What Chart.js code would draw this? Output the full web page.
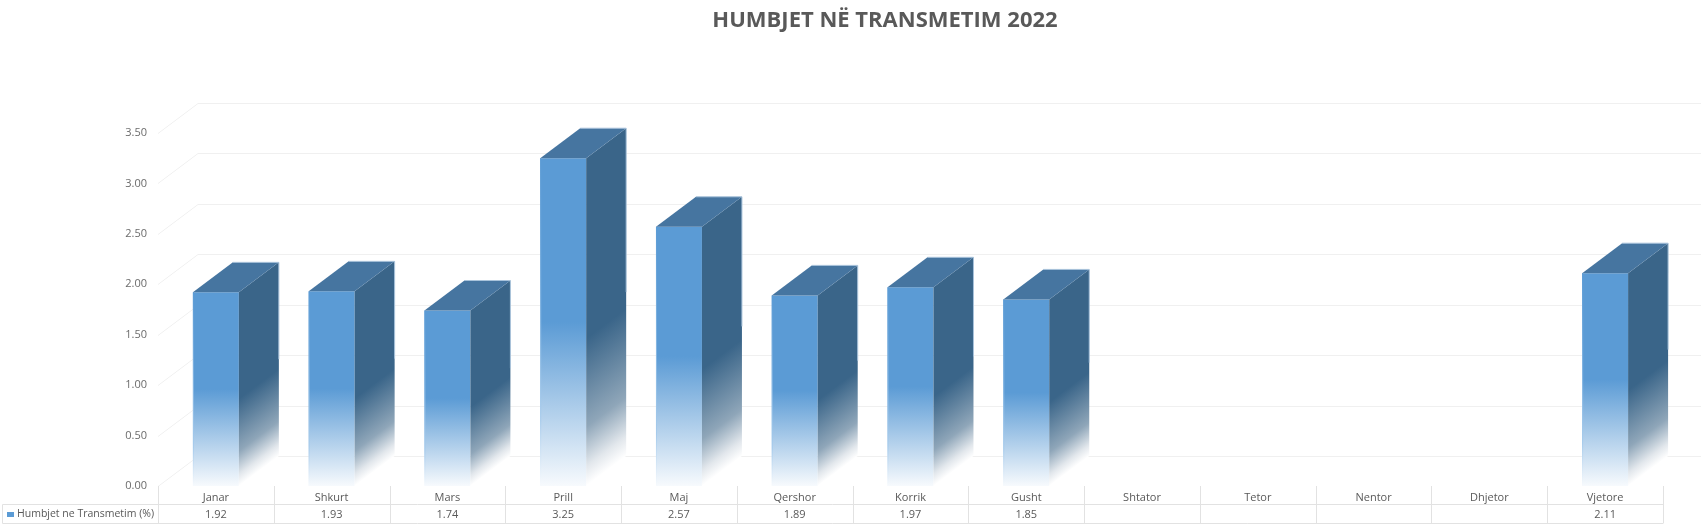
<!DOCTYPE html>
<html>
<head>
<meta charset="utf-8">
<title>Humbjet ne Transmetim</title>
<script src="https://cdn.jsdelivr.net/npm/chart.js@4"></script>
<style>
    html, body { margin: 0; padding: 0; background: #fff; }
    canvas { display: block; }
</style>
</head>
<body>
<canvas id="myChart" width="1701" height="526"></canvas>
<script>
var chartTitle = 'HUMBJET NË TRANSMETIM 2022';
var seriesName = 'Humbjet ne Transmetim (%)';
var labels = ['Janar', 'Shkurt', 'Mars', 'Prill', 'Maj', 'Qershor', 'Korrik', 'Gusht', 'Shtator', 'Tetor', 'Nentor', 'Dhjetor', 'Vjetore'];
var values = [1.92, 1.93, 1.74, 3.25, 2.57, 1.89, 1.97, 1.85, null, null, null, null, 2.11];

var depthX = 40;  // how far the 3D back wall is shifted right
var depthY = 30;  // and up
var fontName = '"Open Sans", sans-serif';

// vertical gradient for one bar, solid in the top half and fading out below
function frontGradient(context, solid, end) {
    var chart = context.chart;
    var value = values[context.dataIndex];
    if (value === null || value === undefined || !chart.scales.y) {
        return solid;
    }
    var top = chart.scales.y.getPixelForValue(value);
    var bottom = chart.scales.y.getPixelForValue(0);
    // the scale has no size yet on the first pass
    if (!isFinite(top) || !isFinite(bottom)) {
        return solid;
    }
    var grad = chart.ctx.createLinearGradient(0, top, 0, bottom);
    grad.addColorStop(0, solid);
    grad.addColorStop(0.5, solid);
    grad.addColorStop(1, end);
    return grad;
}

// back wall and the diagonal lines, goes behind the bars
var wallPlugin = {
    id: 'wall',
    beforeDatasetsDraw: function(chart) {
        var ctx = chart.ctx;
        var y = chart.scales.y;
        ctx.save();
        ctx.strokeStyle = '#f0f0f0';
        ctx.lineWidth = 1;
        y.ticks.forEach(function(tick) {
            var py = Math.round(y.getPixelForValue(tick.value)) + 0.5;
            ctx.beginPath();
            ctx.moveTo(chart.chartArea.left, py);
            ctx.lineTo(chart.chartArea.left + depthX, py - depthY);
            ctx.lineTo(chart.chartArea.right + depthX, py - depthY);
            ctx.stroke();
        });
        ctx.restore();
    }
};

// side and top faces of every bar, taken from the bar elements
var facesPlugin = {
    id: 'faces',
    afterDatasetsDraw: function(chart) {
        var ctx = chart.ctx;
        var meta = chart.getDatasetMeta(0);
        meta.data.forEach(function(bar, i) {
            if (values[i] === null) {
                return;
            }
            var right = bar.x + bar.width / 2;
            var left = bar.x - bar.width / 2;
            var h = bar.base - bar.y;

            // thin edge on the left of the front face
            var edge = ctx.createLinearGradient(0, bar.y, 0, bar.base);
            edge.addColorStop(0, '#5b9bd5');
            edge.addColorStop(0.8, '#a6cbec');
            edge.addColorStop(1, '#f7fafd');
            ctx.save();
            ctx.strokeStyle = edge;
            ctx.lineWidth = 1;
            ctx.beginPath();
            ctx.moveTo(left + 0.5, bar.y);
            ctx.lineTo(left + 0.5, bar.base);
            ctx.stroke();
            ctx.restore();

            // side face, the gradient is sheared along with the face
            ctx.save();
            ctx.transform(1, -depthY / depthX, 0, 1, right, bar.y);
            var grad = ctx.createLinearGradient(0, 0, 0, h);
            grad.addColorStop(0, '#3a6589');
            grad.addColorStop(0.55, '#3a6589');
            grad.addColorStop(0.82, '#8fa6b9');
            grad.addColorStop(0.94, '#e2e7ec');
            grad.addColorStop(1, '#ffffff');
            ctx.fillStyle = grad;
            ctx.fillRect(0, 0, depthX, h);
            ctx.restore();

            // top face
            ctx.save();
            ctx.fillStyle = '#4675a0';
            ctx.strokeStyle = '#a9c3db';
            ctx.lineWidth = 1;
            ctx.beginPath();
            ctx.moveTo(left, bar.y);
            ctx.lineTo(left + depthX, bar.y - depthY);
            ctx.lineTo(right + depthX, bar.y - depthY);
            ctx.lineTo(right, bar.y);
            ctx.closePath();
            ctx.fill();
            ctx.beginPath();
            ctx.moveTo(left + depthX, bar.y - depthY);
            ctx.lineTo(right + depthX, bar.y - depthY);
            ctx.lineTo(right + depthX, bar.y - depthY + h * 0.5);
            ctx.stroke();
            ctx.restore();
        });
    }
};

// data table under the axis
var tablePlugin = {
    id: 'dataTable',
    afterDraw: function(chart) {
        var ctx = chart.ctx;
        var x = chart.scales.x;
        var top = chart.chartArea.bottom;
        var rowLine = top + 18.5;
        var bottom = top + 37.5;
        var cell = x.width / labels.length;
        var i;

        ctx.save();
        ctx.strokeStyle = '#e2e2e2';
        ctx.lineWidth = 1;
        ctx.beginPath();
        for (i = 0; i <= labels.length; i++) {
            var lx = Math.round(x.left + i * cell) + 0.5;
            ctx.moveTo(lx, top);
            ctx.lineTo(lx, bottom);
        }
        ctx.moveTo(2.5, rowLine);
        ctx.lineTo(x.right, rowLine);
        ctx.moveTo(2.5, bottom);
        ctx.lineTo(x.right, bottom);
        ctx.moveTo(2.5, rowLine);
        ctx.lineTo(2.5, bottom);
        ctx.stroke();

        // legend key and series name
        ctx.fillStyle = '#5b9bd5';
        ctx.fillRect(7, top + 26, 7, 5);
        ctx.font = '10.5px ' + fontName;
        ctx.fillStyle = '#595959';
        ctx.textBaseline = 'middle';
        ctx.textAlign = 'left';
        ctx.fillText(seriesName, 17, top + 28);

        // values
        ctx.font = '11px ' + fontName;
        ctx.textAlign = 'center';
        values.forEach(function(v, n) {
            if (v !== null) {
                ctx.fillText(v.toFixed(2), x.getPixelForValue(n), top + 29);
            }
        });
        ctx.restore();
    }
};

var ctx = document.getElementById('myChart').getContext('2d');
var myChart = new Chart(ctx, {
    type: 'bar',
    data: {
        labels: labels,
        datasets: [{
            label: seriesName,
            data: values,
            backgroundColor: function(context) {
                return frontGradient(context, '#5b9bd5', '#f7fafd');
            },
            borderWidth: 0,
            categoryPercentage: 1,
            barPercentage: 0.397
        }]
    },
    options: {
        responsive: false,
        animation: false,
        layout: {
            padding: { left: 107, right: 38, top: 0, bottom: 0 }
        },
        plugins: {
            legend: { display: false },
            tooltip: { enabled: false },
            title: {
                display: true,
                text: chartTitle,
                color: '#595959',
                font: { family: fontName, size: 22, weight: 'bold', lineHeight: 1.2 },
                padding: { top: 8, bottom: 98.6 }
            }
        },
        scales: {
            x: {
                grid: { display: false, drawTicks: false },
                border: { display: false },
                ticks: {
                    color: '#595959',
                    font: { family: fontName, size: 11 },
                    padding: 5,
                    autoSkip: false,
                    maxRotation: 0
                },
                afterFit: function(scale) {
                    scale.height = 40;
                }
            },
            y: {
                min: 0,
                max: 3.5,
                grid: { display: false, drawTicks: false },
                border: { display: false },
                ticks: {
                    stepSize: 0.5,
                    color: '#6b6b6b',
                    font: { family: fontName, size: 11 },
                    padding: 11,
                    callback: function(value) {
                        return value.toFixed(2);
                    }
                },
                afterFit: function(scale) {
                    scale.width = 51;
                }
            }
        }
    },
    plugins: [wallPlugin, facesPlugin, tablePlugin]
});
</script>
</body>
</html>
